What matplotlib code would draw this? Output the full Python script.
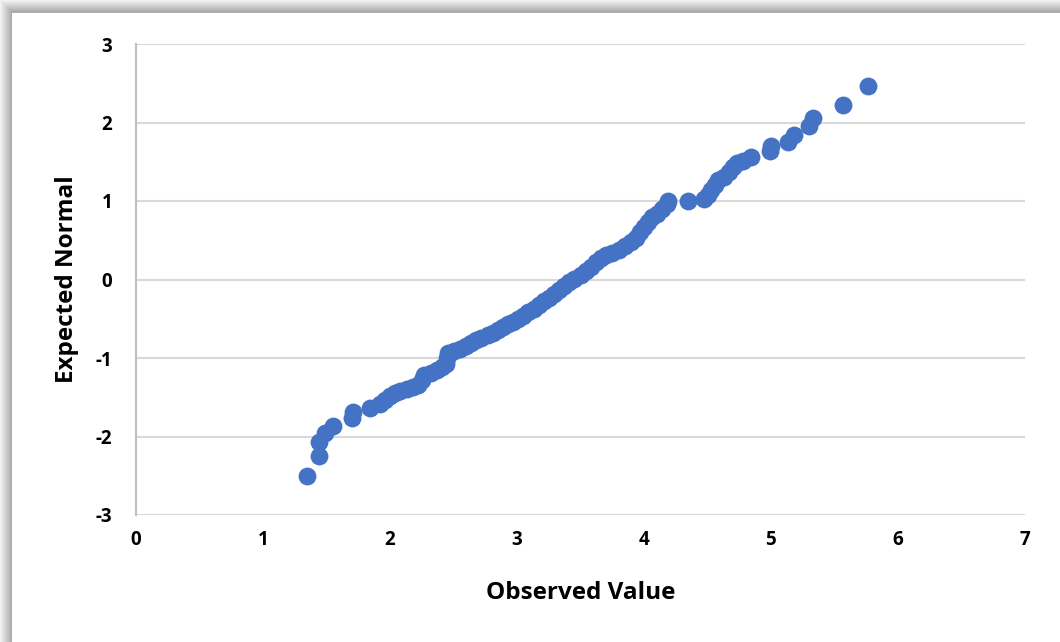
import matplotlib
matplotlib.use('Agg')
import matplotlib.pyplot as plt
from matplotlib.patches import Rectangle

plt.rcParams['axes.unicode_minus'] = False

observed = [1.35, 1.44, 1.44, 1.49, 1.55, 1.70, 1.71, 1.84, 1.92, 1.96,
            2.00, 2.04, 2.08, 2.13, 2.18, 2.22, 2.25, 2.27, 2.32, 2.37,
            2.41, 2.44, 2.45, 2.46, 2.50, 2.55, 2.60, 2.64, 2.68, 2.72,
            2.77, 2.81, 2.85, 2.89, 2.93, 2.97, 3.01, 3.05, 3.09, 3.13,
            3.17, 3.21, 3.25, 3.29, 3.33, 3.37, 3.41, 3.45, 3.50, 3.54,
            3.58, 3.62, 3.66, 3.70, 3.75, 3.80, 3.85, 3.90, 3.94, 3.97,
            4.00, 4.03, 4.06, 4.10, 4.14, 4.18, 4.19, 4.35, 4.47, 4.50,
            4.53, 4.56, 4.58, 4.63, 4.67, 4.70, 4.73, 4.78, 4.84, 4.99,
            5.00, 5.13, 5.18, 5.30, 5.33, 5.57, 5.76]
expected = [-2.50, -2.25, -2.07, -1.96, -1.86, -1.77, -1.69, -1.64, -1.58, -1.54,
            -1.49, -1.45, -1.42, -1.39, -1.37, -1.34, -1.28, -1.22, -1.19, -1.15,
            -1.12, -1.08, -1.00, -0.94, -0.91, -0.88, -0.85, -0.81, -0.77, -0.74,
            -0.71, -0.68, -0.64, -0.60, -0.57, -0.54, -0.50, -0.46, -0.42, -0.38,
            -0.33, -0.28, -0.23, -0.18, -0.13, -0.08, -0.03, 0.01, 0.06, 0.11,
            0.16, 0.22, 0.27, 0.31, 0.34, 0.38, 0.43, 0.48, 0.53, 0.60,
            0.67, 0.73, 0.79, 0.84, 0.90, 0.96, 1.00, 1.00, 1.03, 1.08,
            1.14, 1.20, 1.27, 1.30, 1.37, 1.43, 1.48, 1.51, 1.56, 1.64,
            1.70, 1.75, 1.84, 1.95, 2.06, 2.22, 2.47]

x_ticks = [0, 1, 2, 3, 4, 5, 6, 7]
y_ticks = [-3, -2, -1, 0, 1, 2, 3]

W, H = 1060, 642
fig = plt.figure(figsize=(W / 100, H / 100), dpi=100)
fig.patch.set_facecolor('white')

# sombra del marco (estilo Excel)
for k in range(12):
    g = 0.95 - 0.025 * k
    fig.add_artist(Rectangle((k / W, 0), 1 - k / W, 1 - k / H,
                             transform=fig.transFigure, facecolor=(g, g, g),
                             edgecolor='none', zorder=-10))
fig.add_artist(Rectangle((12 / W, 0), 1, 1 - 13 / H, transform=fig.transFigure,
                         facecolor='white', edgecolor='none', zorder=-9))

ax = fig.add_axes([136 / W, 1 - 515 / H, (1025 - 136) / W, (515 - 44) / H])
ax.set_facecolor('none')

ax.scatter(observed, expected, s=165, color='#4472C4', linewidths=0, zorder=3,
           clip_on=False)

ax.set_xlim(0, 7)
ax.set_ylim(-3, 3)
ax.set_xticks(x_ticks)
ax.set_yticks(y_ticks)
ax.grid(axis='y', color='#D9D9D9', linewidth=1.5)
ax.set_axisbelow(True)

for s in ['top', 'right', 'bottom']:
    ax.spines[s].set_visible(False)
ax.spines['left'].set_color('#BFBFBF')
ax.spines['left'].set_linewidth(1.5)

fuente = 'Open Sans'
ax.tick_params(length=0, pad=11, labelsize=13.5)
ax.tick_params(axis='y', pad=17)
for lab in ax.get_xticklabels() + ax.get_yticklabels():
    lab.set_fontweight('bold')
    lab.set_family(fuente)

ax.set_xlabel('Observed Value', fontsize=17.5, fontweight='bold', family=fuente,
              labelpad=22)
ax.set_ylabel('Expected Normal', fontsize=17.5, fontweight='bold', family=fuente,
              labelpad=12)

fig.savefig('out.png', dpi=100)
